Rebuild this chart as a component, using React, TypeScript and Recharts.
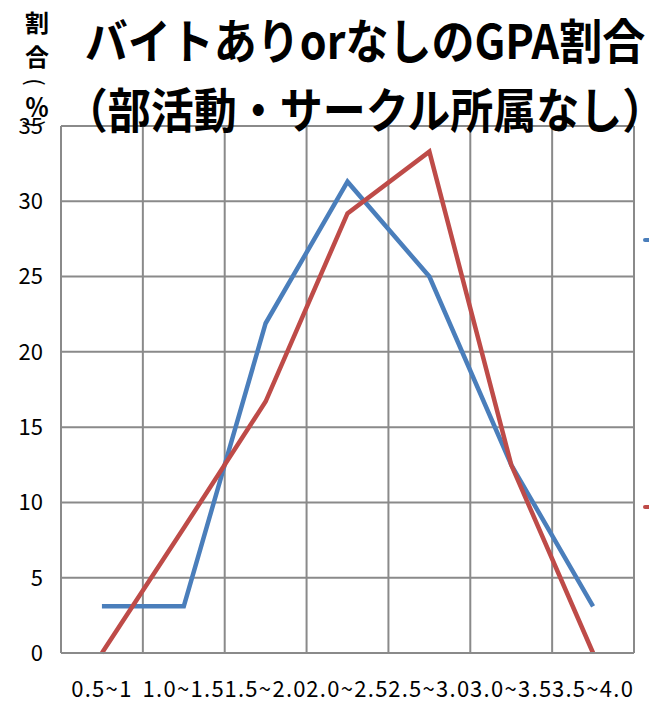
import { LineChart, Line, XAxis, YAxis, CartesianGrid } from "recharts";

const categories = ["0.5~1", "1.0~1.5", "1.5~2.0", "2.0~2.5", "2.5~3.0", "3.0~3.5", "3.5~4.0"];
const withJob = [3.1, 3.1, 21.9, 31.3, 25.0, 12.5, 3.1];
const withoutJob = [0, 8.3, 16.7, 29.2, 33.3, 12.5, 0];
const yTicks = [0, 5, 10, 15, 20, 25, 30, 35];
const yLabelChars = ["割", "合", "(", "％", ")"];

const data = categories.map((range, i) => ({ range, withJob: withJob[i], withoutJob: withoutJob[i] }));

const font = "'Noto Sans CJK JP', 'Noto Sans', sans-serif";
const gridColor = "#8a8a8a";
const blue = "#4a7ebb";
const red = "#be4b48";

export default function App() {
  return (
    <div style={{ position: "absolute", left: 0, top: 0, width: 649, height: 701, background: "#fff", overflow: "hidden", fontFamily: font }}>
      <LineChart width={649} height={701} data={data} margin={{ top: 126, right: 15, bottom: 0, left: 0 }}>
        <CartesianGrid
          stroke={gridColor}
          strokeWidth={2}
          verticalCoordinatesGenerator={({ offset }: any) =>
            Array.from({ length: categories.length + 1 }, (_, i) => offset.left + (offset.width * i) / categories.length)
          }
        />
        <XAxis
          dataKey="range"
          scale="band"
          interval={0}
          height={48}
          tickLine={false}
          axisLine={{ stroke: gridColor, strokeWidth: 2 }}
          tick={{ fontSize: 22, fill: "#000", fontFamily: font, letterSpacing: 1.3 }}
          tickMargin={22}
        />
        <YAxis
          domain={[0, 35]}
          ticks={yTicks}
          width={61}
          tickLine={false}
          axisLine={{ stroke: gridColor, strokeWidth: 2 }}
          tick={{ fontSize: 22, fill: "#000", fontFamily: font }}
          tickMargin={12}
        />
        <Line dataKey="withJob" name="バイトあり" stroke={blue} strokeWidth={4.5} dot={false} isAnimationActive={false} />
        <Line dataKey="withoutJob" name="バイトなし" stroke={red} strokeWidth={4.5} dot={false} isAnimationActive={false} />
      </LineChart>

      {/* legend sits mostly off the right edge, only the line markers peek in */}
      <div style={{ position: "absolute", left: 643, top: 238, width: 8, height: 4, borderRadius: 2, background: blue }} />
      <div style={{ position: "absolute", left: 643, top: 505, width: 8, height: 4, borderRadius: 2, background: red }} />

      <div style={{ position: "absolute", left: 40, width: 650, top: 10, textAlign: "center", fontSize: 43, fontWeight: 700, lineHeight: "63px", whiteSpace: "nowrap", transform: "scaleY(1.1)" }}>
        バイトありorなしのGPA割合
        <br />
        （部活動・サークル所属なし）
      </div>
      {yLabelChars.map((ch, i) => {
        const paren = ch === "(" || ch === ")";
        return (
          <div
            key={i}
            style={{
              position: "absolute",
              left: 24,
              width: 26,
              height: 28,
              textAlign: "center",
              top: [8, 42, 68, 92, 110][i],
              fontSize: paren ? 22 : 24,
              fontWeight: paren ? 400 : 700,
              lineHeight: "28px",
              transform: paren ? "rotate(90deg)" : undefined,
            }}
          >
            {ch}
          </div>
        );
      })}
    </div>
  );
}
